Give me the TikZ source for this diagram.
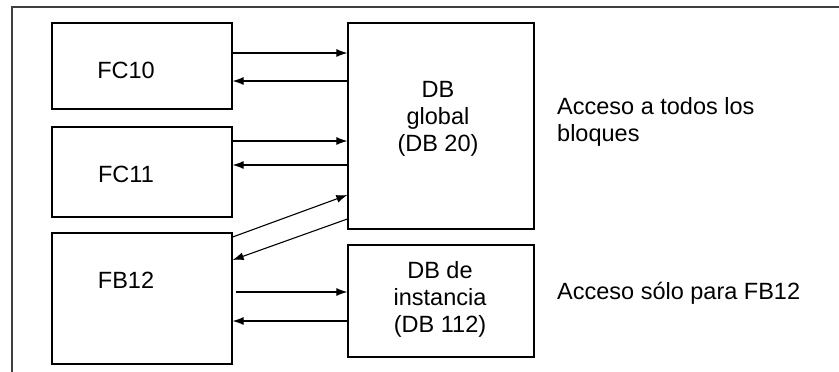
\documentclass[tikz,border=0pt]{standalone}
\usepackage{fontspec}
\setmainfont{Liberation Sans}
\usetikzlibrary{arrows.meta}
\begin{document}
\begin{tikzpicture}[x=1pt,y=-1pt,
  blk/.style={draw,line width=1.3pt,rectangle,inner sep=0pt},
  lbl/.style={font=\fontsize{23.5}{27}\selectfont,inner sep=0pt,align=center},
  arr/.style={line width=1.1pt,-{Latex[length=11pt,width=8pt]}}]
\useasboundingbox (0,0) rectangle (839,372);
\fill[white] (0,0) rectangle (839,372);
\draw[line width=2pt,black!75] (12,372) -- (12,7) -- (839,7);
% boxes
\node[blk,minimum width=180pt,minimum height=86pt] (fc10) at (142,66) {};
\node[blk,minimum width=180pt,minimum height=90pt] (fc11) at (142,172) {};
\node[blk,minimum width=180pt,minimum height=131pt] (fb12) at (142,298.5) {};
\node[blk,minimum width=186pt,minimum height=206pt] (dbg) at (441,126) {};
\node[blk,minimum width=186pt,minimum height=112pt] (dbi) at (441,301) {};
% texts
\node[lbl] (t10) at (126,70) {FC10};
\node[lbl] (t11) at (126,174) {FC11};
\node[lbl] (t12) at (126,280) {FB12};
\node[lbl] (tdbg) at (438,119) {DB\\global\\(DB 20)};
\node[lbl] (tdbi) at (440,299) {DB de\\instancia\\(DB 112)};
\node[lbl,anchor=west,align=left] (r1) at (557,122) {Acceso a todos los\\bloques};
\node[lbl,anchor=west,align=left] (r2) at (557,293) {Acceso sólo para FB12};
% connectors
\draw[arr] ([yshift=13pt]fc10.east) -- ([yshift=73pt]dbg.west);
\draw[arr] ([yshift=45pt]dbg.west) -- ([yshift=-15pt]fc10.east);
\draw[arr] ([yshift=31pt]fc11.east) -- ([yshift=-15pt]dbg.west);
\draw[arr] ([yshift=-39pt]dbg.west) -- ([yshift=7pt]fc11.east);
\draw[arr] ([yshift=61.5pt]fb12.east) -- ([yshift=-69pt]dbg.west);
\draw[arr] ([yshift=-93pt]dbg.west) -- ([yshift=38.5pt]fb12.east);
\draw[arr] ([xshift=3pt,yshift=6.5pt]fb12.east) -- ([yshift=9pt]dbi.west);
\draw[arr] ([yshift=-20pt]dbi.west) -- ([yshift=-22.5pt]fb12.east);
\end{tikzpicture}
\end{document}
